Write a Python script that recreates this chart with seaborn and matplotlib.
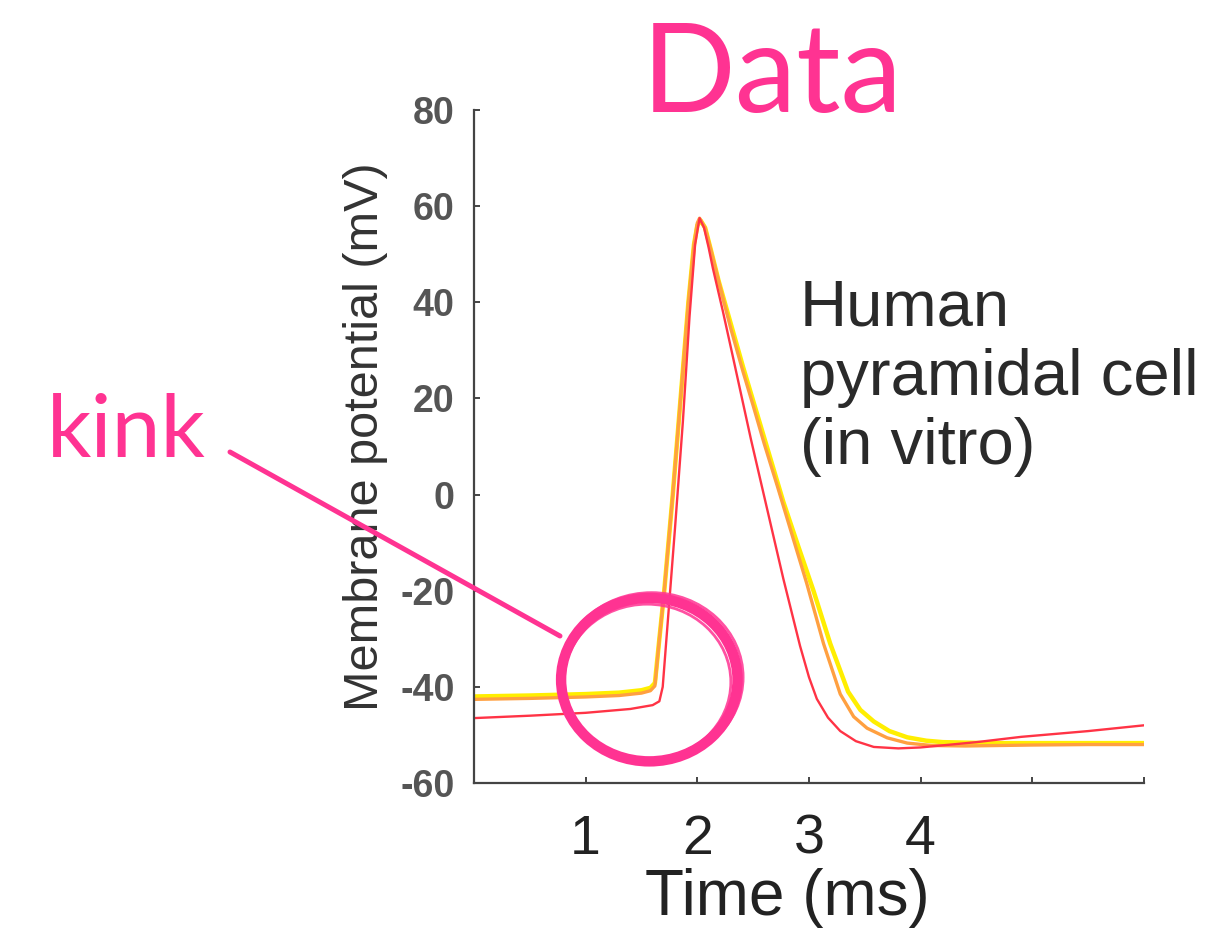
import matplotlib
matplotlib.use("Agg")
import matplotlib.pyplot as plt
import pandas as pd
import seaborn as sns
from matplotlib.patches import Ellipse
from matplotlib.lines import Line2D

# action potential traces (time in ms, potential in mV)
t_yellow = [0, 0.5, 1.0, 1.3, 1.5, 1.58, 1.62, 1.66, 1.7, 1.78, 1.85, 1.92, 1.97, 2.0,
            2.03, 2.07, 2.12, 2.19, 2.3, 2.41, 2.5, 2.59, 2.68, 2.77, 2.9, 3.04, 3.19,
            3.35, 3.46, 3.58, 3.72, 3.88, 4.05, 4.2, 4.6, 5.0, 5.5, 6.0]
v_yellow = [-42.0, -41.8, -41.5, -41.2, -40.7, -40.2, -39.2, -30, -21, 0, 20, 40, 52, 56,
            57, 55.5, 51, 44.5, 35.5, 26.5, 19.5, 12.5, 5.5, -1.5, -10.5, -20, -31,
            -41, -44.8, -47.2, -49.2, -50.5, -51.2, -51.5, -51.7, -51.7, -51.7, -51.7]

t_orange = [0, 0.5, 1.0, 1.3, 1.5, 1.58, 1.62, 1.66, 1.7, 1.78, 1.85, 1.92, 1.97, 2.0,
            2.02, 2.07, 2.12, 2.19, 2.3, 2.41, 2.5, 2.6, 2.72, 2.85, 2.98, 3.13, 3.28,
            3.4, 3.52, 3.7, 3.88, 4.1, 4.4, 5.0, 5.5, 6.0]
v_orange = [-42.6, -42.4, -42.1, -41.8, -41.3, -40.8, -39.8, -30, -21, 0, 20, 40, 52, 56.5,
            57.5, 55.5, 51, 44.5, 34.5, 25.5, 18.5, 10.5, 1.5, -8.5, -18.5, -31, -41.5,
            -46.2, -48.6, -50.6, -51.7, -52.2, -52.3, -52.1, -52.0, -52.0]

t_red = [0, 0.5, 1.0, 1.4, 1.6, 1.66, 1.69, 1.73, 1.8, 1.87, 1.93, 1.98, 2.02, 2.06,
         2.1, 2.14, 2.23, 2.32, 2.4, 2.48, 2.59, 2.68, 2.77, 2.92, 3.0, 3.07, 3.17,
         3.28, 3.42, 3.58, 3.8, 4.0, 4.5, 4.9, 5.5, 6.0]
v_red = [-46.5, -46.0, -45.4, -44.6, -43.8, -43.0, -40, -28, -7, 15, 37, 52, 57.5, 55.5,
         51.5, 47, 38, 28.5, 20, 11.5, 0.5, -8.5, -17.5, -31.5, -38, -42.5, -46.4,
         -49.2, -51.3, -52.5, -52.8, -52.6, -51.5, -50.4, -49.2, -48.0]

xticks = [1, 2, 3, 4, 5, 6]
xtick_labels = ["1", "2", "3", "4", "", ""]
yticks = [-60, -40, -20, 0, 20, 40, 60, 80]

PINK = "#FF3392"

sns.set_style("white")
plt.rcParams["font.family"] = ["Liberation Sans", "DejaVu Sans"]

fig = plt.figure(figsize=(12.24, 9.38), dpi=100)
ax = fig.add_axes([474 / 1224, 1 - 783 / 938, 670 / 1224, 673 / 938])

traces = [(t_yellow, v_yellow, "#FFEE00", 3.2),
          (t_orange, v_orange, "#FFA040", 2.4),
          (t_red, v_red, "#FF3345", 1.7)]
for t, v, c, lw in traces:
    df = pd.DataFrame({"t": t, "v": v})
    sns.lineplot(data=df, x="t", y="v", color=c, linewidth=lw, ax=ax, sort=False)

ax.set_xlim(0, 6)
ax.set_ylim(-60, 80)
ax.set_xticks(xticks)
ax.set_xticklabels(xtick_labels)
ax.set_yticks(yticks)
ax.set_yticklabels([str(y) for y in yticks])

for side in ["top", "right"]:
    ax.spines[side].set_visible(False)
for side in ["left", "bottom"]:
    ax.spines[side].set_color("#444444")
    ax.spines[side].set_linewidth(1.6)

ax.tick_params(axis="x", bottom=True, direction="in", length=4, width=1.4, color="#444444",
               labelsize=40, labelcolor="#222222", pad=22)
ax.tick_params(axis="y", left=True, direction="in", length=4, width=1.4, color="#444444",
               labelsize=27, labelcolor="#555555", pad=14)
for lab in ax.get_yticklabels():
    lab.set_fontweight("bold")

ax.set_xlabel("Time (ms)", fontsize=46, color="#222222")
ax.set_ylabel("Membrane potential (mV)", fontsize=35, color="#333333")
ax.xaxis.set_label_coords(0.467, -0.127)
ax.yaxis.set_label_coords(-0.128, 0.514)

ax.text(2.92, 45, "Human\npyramidal cell\n(in vitro)", fontsize=47, color="#2a2a2a",
        ha="left", va="top")

# hand-drawn style circle round the kink
for cx, cy, w, h, lw, a in [(1.57, -38.5, 1.58, 34.0, 7.5, 1.0),
                            (1.59, -38.0, 1.64, 35.2, 2.0, 0.85),
                            (1.55, -39.0, 1.50, 32.4, 2.0, 0.85)]:
    ax.add_patch(Ellipse((cx, cy), w, h, fill=False, edgecolor=PINK,
                         linewidth=lw, alpha=a, clip_on=False, zorder=5))

fig.add_artist(Line2D([230 / 1224, 560 / 1224], [1 - 452 / 938, 1 - 636 / 938],
                      color=PINK, linewidth=3.6, transform=fig.transFigure))
fig.text(47 / 1224, 1 - 457 / 938, "kink", fontsize=63, color=PINK,
         family=["Lato", "DejaVu Sans"], ha="left", va="baseline")
fig.text(772 / 1224, 1 - 112 / 938, "Data", fontsize=89, color=PINK,
         family=["Lato", "DejaVu Sans"], ha="center", va="baseline")

fig.savefig("out.png", dpi=100, facecolor="white")
plt.close(fig)
print("Done: out.png")
